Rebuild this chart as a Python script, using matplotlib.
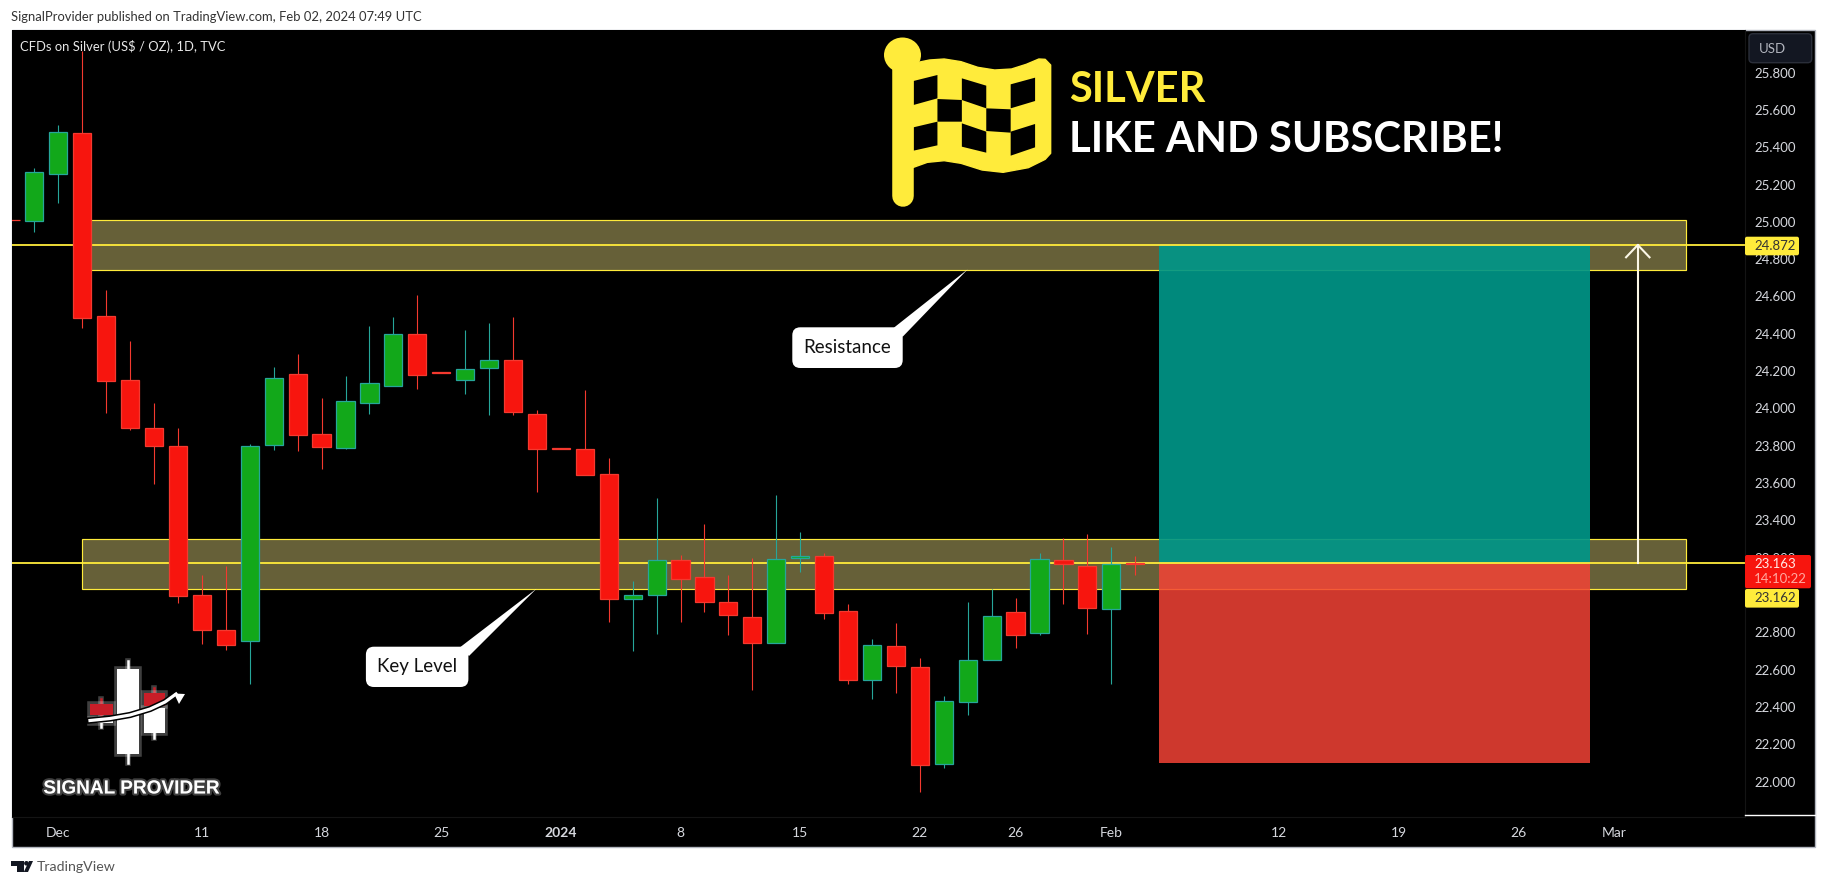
import numpy as np
import matplotlib
matplotlib.use('Agg')
import matplotlib.pyplot as plt
import matplotlib.patheffects as pe
from matplotlib.patches import Rectangle, Polygon, FancyBboxPatch, Ellipse, Circle

plt.rcParams['font.family'] = ['Lato', 'DejaVu Sans']

# candles, first one is the stub cut by the left edge
opens = [25.012, 25.007, 25.258, 25.475, 24.494, 24.151, 23.894, 23.797, 22.999, 22.811,
         22.756, 23.803, 24.183, 23.861, 23.786, 24.031, 24.122, 24.398, 24.195, 24.151,
         24.219, 24.258, 23.968, 23.789, 23.783, 23.647, 22.981, 23.002, 23.186, 23.095,
         22.961, 22.881, 22.742, 23.197, 23.208, 22.913, 22.547, 22.726, 22.613, 22.093,
         22.429, 22.654, 22.907, 22.795, 23.186, 23.154, 22.924, 23.172]
highs = [25.012, 25.289, 25.519, 25.918, 24.635, 24.362, 24.029, 23.894, 23.108, 23.156,
         23.808, 24.222, 24.290, 24.056, 24.174, 24.442, 24.490, 24.608, 24.196, 24.421,
         24.458, 24.490, 23.990, 23.789, 24.099, 23.733, 23.076, 23.520, 23.215, 23.381,
         23.108, 23.199, 23.536, 23.338, 23.224, 22.952, 22.765, 22.850, 22.661, 22.457,
         22.963, 23.033, 22.984, 23.225, 23.306, 23.327, 23.258, 23.209]
lows = [25.008, 24.948, 25.103, 24.431, 23.978, 23.885, 23.597, 22.959, 22.740, 22.706,
        22.525, 23.779, 23.772, 23.676, 23.780, 23.971, 24.120, 24.105, 24.188, 24.078,
        23.965, 23.965, 23.554, 23.783, 23.642, 22.858, 22.700, 22.793, 22.858, 22.911,
        22.786, 22.493, 22.742, 23.125, 22.872, 22.525, 22.445, 22.477, 21.947, 22.075,
        22.359, 22.654, 22.718, 22.788, 22.954, 22.793, 22.525, 23.108]
closes = [25.008, 25.266, 25.480, 24.482, 24.149, 23.894, 23.796, 22.993, 22.815, 22.734,
          23.797, 24.162, 23.856, 23.792, 24.038, 24.135, 24.398, 24.181, 24.188, 24.210,
          24.258, 23.983, 23.781, 23.783, 23.642, 22.981, 22.999, 23.186, 23.085, 22.965,
          22.892, 22.742, 23.192, 23.208, 22.906, 22.547, 22.731, 22.617, 22.088, 22.431,
          22.650, 22.886, 22.784, 23.192, 23.165, 22.929, 23.165, 23.168]

price_ticks = [22.0, 22.2, 22.4, 22.6, 22.8, 23.0, 23.2, 23.4, 23.6, 23.8, 24.0, 24.2,
               24.4, 24.6, 24.8, 25.0, 25.2, 25.4, 25.6, 25.8]
date_pos = [1, 7, 12, 17, 22, 27, 32, 37, 41, 45, 52, 57, 62, 66]
date_labels = ['Dec', '11', '18', '25', '2024', '8', '15', '22', '26', 'Feb', '12', '19', '26', 'Mar']

resistance_zone = [24.741, 25.009]
key_zone = [23.031, 23.299]
resistance_line = 24.876
key_line = 23.174
stop_price = 22.099
zone_start, zone_end = 2, 69
pos_start, pos_end = 47, 65
arrow_x = 67

W, H = 1826, 886
LEFT, TOP, PANE_R, PANE_B, RIGHT, BOTTOM = 11.5, 30, 1745, 816.7, 1815, 846.7
BULL, BEAR = '#12a81a', '#f7150e'
BULL_EDGE, BEAR_EDGE = '#26a69a', '#f4392f'
YELLOW = '#ffeb3b'
GREY = '#d6d8de'

fig = plt.figure(figsize=(W / 100, H / 100), dpi=100, facecolor='white')

# black frame behind everything
fig.add_artist(Rectangle((LEFT / W, 1 - BOTTOM / H), (RIGHT - LEFT) / W, (BOTTOM - TOP) / H,
                         transform=fig.transFigure, fc='black', ec='#b2b5be', lw=1, zorder=-5))

ax = fig.add_axes([LEFT / W, 1 - PANE_B / H, (PANE_R - LEFT) / W, (PANE_B - TOP) / H], facecolor='black')
ax.set_xlim(-0.957, 71.48)
ax.set_ylim(21.812, 26.028)
for s in ax.spines.values():
    s.set_visible(False)
ax.spines['right'].set_visible(True)
ax.spines['right'].set_color('#141414')
ax.spines['bottom'].set_visible(True)
ax.spines['bottom'].set_color('#141414')

ax.yaxis.tick_right()
ax.set_yticks(price_ticks)
ax.set_yticklabels(['%.3f' % p for p in price_ticks])
ax.set_xticks(date_pos)
ax.set_xticklabels(date_labels)
ax.tick_params(axis='y', length=0, pad=6.5, colors=GREY, labelsize=9.5)
ax.tick_params(axis='x', length=0, pad=7.5, colors=GREY, labelsize=10)
ax.get_xticklabels()[4].set_fontweight('bold')

# zones
for lo, hi in (resistance_zone, key_zone):
    ax.add_patch(Rectangle((zone_start, lo), zone_end - zone_start, hi - lo, fc='#666038', ec=YELLOW, lw=0.85, zorder=1))

# long position box
ax.add_patch(Rectangle((pos_start, key_line), pos_end - pos_start, resistance_line - key_line,
                       fc='#009688', alpha=0.92, lw=0, zorder=1.5))
ax.add_patch(Rectangle((pos_start, stop_price), pos_end - pos_start, key_line - stop_price,
                       fc='#f44336', alpha=0.85, lw=0, zorder=1.5))

ax.axhline(resistance_line, color=YELLOW, lw=1.3, zorder=2)
ax.axhline(key_line, color=YELLOW, lw=1.3, zorder=2)

# candles
idx = np.arange(-1, len(opens) - 1)
o = np.array(opens)
c = np.array(closes)
up = c > o
wick_cols = [BULL_EDGE if u else BEAR_EDGE for u in up]
ax.vlines(idx, lows, highs, colors=wick_cols, lw=0.8, zorder=3)
ax.bar(idx, np.abs(c - o), bottom=np.minimum(o, c), width=0.76,
       color=[BULL if u else BEAR for u in up], edgecolor=wick_cols, lw=0.9, zorder=3.5)

# up arrow
ax.plot([arrow_x, arrow_x], [key_line, resistance_line], color='#fbf7e6', lw=1.5, zorder=4)
ax.plot([arrow_x - 0.49, arrow_x, arrow_x + 0.49],
        [resistance_line - 0.066, resistance_line, resistance_line - 0.066],
        color='#fbf7e6', lw=1.5, zorder=4)

# overlay in image pixels for labels, callouts and logos
ov = fig.add_axes([0, 0, 1, 1], facecolor='none', zorder=5)
ov.set_xlim(0, W)
ov.set_ylim(H, 0)
ov.axis('off')

ov.text(10.7, 16.5, 'SignalProvider published on TradingView.com, Feb 02, 2024 07:49 UTC',
        fontsize=9.4, color='#333333', va='center')
ov.text(20, 46.7, 'CFDs on Silver (US$ / OZ), 1D, TVC', fontsize=9.4, color='#e8e8e8', va='center')
ov.text(37, 867.3, 'TradingView', fontsize=10.2, color='#555555', va='center')

# tradingview mark
ov.add_patch(Polygon([(10.7, 861), (23.5, 861), (23.5, 872), (16.5, 872), (16.5, 866), (10.7, 866)], fc='#131722'))
ov.add_patch(Circle((26.4, 863.3), 2.3, fc='#131722'))
ov.add_patch(Polygon([(29, 861), (33, 861), (28, 872), (23.8, 872)], fc='#131722'))

# price axis boxes
ov.add_patch(FancyBboxPatch((1749, 33.7), 62.7, 29, boxstyle='round,pad=0,rounding_size=4', fc='#131722', ec='#2a2e39', lw=1))
ov.text(1759, 48.5, 'USD', fontsize=9.5, color='#b2b5be', va='center')
for y0, txt in [(236.7, '24.872'), (589, '23.162')]:
    ov.add_patch(FancyBboxPatch((1745, y0), 54, 18.6, boxstyle='round,pad=0,rounding_size=2', fc=YELLOW, lw=0))
    ov.text(1754, y0 + 9.3, txt, fontsize=9.5, color='#333333', va='center')
ov.add_patch(FancyBboxPatch((1745, 555), 66, 33.3, boxstyle='round,pad=0,rounding_size=2', fc=BEAR, lw=0))
ov.text(1754, 564.3, '23.163', fontsize=9.5, color='#ffe9e6', va='center')
ov.text(1754, 579.3, '14:10:22', fontsize=9.5, color='#ffa9a0', va='center')
ov.plot([1745, 1815], [815, 815], color='white', lw=1)

# callouts
def callout(x0, y0, x1, y1, tail, label):
    ov.add_patch(Polygon(tail, fc='white', lw=0))
    ov.add_patch(FancyBboxPatch((x0, y0), x1 - x0, y1 - y0, boxstyle='round,pad=0,rounding_size=8', fc='white', lw=0))
    ov.text((x0 + x1) / 2, (y0 + y1) / 2, label, fontsize=13.5, color='#111111', ha='center', va='center')

callout(365.9, 646.7, 468.4, 687, [(460.4, 647), (536.5, 588.7), (469, 656)], 'Key Level')
callout(792.3, 327.3, 902.7, 368, [(894, 327.6), (967.7, 269.3), (902.7, 336.7)], 'Resistance')

# headline
ov.text(1069, 90, 'SILVER', fontsize=30, color=YELLOW, fontweight='bold', va='center')
ov.text(1069, 140, 'LIKE AND SUBSCRIBE!', fontsize=30.1, color='white', fontweight='bold', va='center')

# flag, points taken from a zoom of the logo
def fl(pts):
    return [(860 + x / 2.376, 20 + y / 3) for x, y in pts]

flag_pts = [(110, 135), (127, 130), (165, 120), (200, 117), (240, 125), (280, 142), (320, 150), (360, 147), (395, 133),
            (425, 117), (440, 118), (453, 135), (453, 400), (440, 418), (400, 443), (340, 457), (290, 450), (240, 430),
            (200, 422), (160, 427), (127, 442), (110, 445)]
ov.add_patch(Polygon(fl(flag_pts), fc=YELLOW, ec=YELLOW, lw=1, joinstyle='round'))
ov.plot([902.5, 902.5], [55, 196], color=YELLOW, lw=15.5, solid_capstyle='round')
ov.add_patch(Ellipse((902.5, 55), 37, 35, fc=YELLOW, lw=0))
squares = [[(127, 183), (184, 165), (184, 235), (127, 255)],
           [(242, 175), (300, 197), (300, 265), (242, 240)],
           [(358, 193), (416, 173), (416, 243), (358, 265)],
           [(184, 237), (242, 240), (242, 305), (184, 305)],
           [(300, 265), (358, 268), (358, 338), (300, 333)],
           [(127, 322), (184, 305), (184, 376), (127, 392)],
           [(242, 310), (300, 335), (300, 398), (242, 380)],
           [(358, 335), (416, 312), (416, 382), (358, 407)]]
for sq in squares:
    ov.add_patch(Polygon(fl(sq), fc='black', lw=0))

# signal provider logo
glow = [pe.withStroke(linewidth=4, foreground='white', alpha=0.25)]
def logo_candle(x0, x1, y0, y1, wt, wb, col):
    xm = (x0 + x1) / 2
    ov.plot([xm, xm], [wt, wb], color=col, lw=1.8, path_effects=glow, zorder=2)
    ov.add_patch(Rectangle((x0, y0), x1 - x0, y1 - y0, fc=col, lw=0, zorder=2, path_effects=glow))

logo_candle(117, 139, 668.7, 754, 661.3, 762.7, 'white')
logo_candle(90.3, 112.5, 704, 715, 699, 718, '#c81e28')
logo_candle(90.3, 112.5, 719, 723, 719, 727, 'white')
logo_candle(143.5, 165.3, 708, 732.7, 708, 738, 'white')
logo_candle(143.5, 165.3, 693, 706, 688, 706, '#c81e28')

curve_x = [90, 110, 130, 150, 165, 176]
curve_y = [720.5, 718.5, 715, 709, 702, 694]
ov.plot(curve_x, curve_y, color='black', lw=4.5, zorder=3)
ov.plot(curve_x, curve_y, color='white', lw=2.3, zorder=4)
ov.add_patch(Polygon([(185, 694), (174, 693.5), (179, 704)], fc='white', lw=0, zorder=4))
ov.text(131, 789, 'SIGNAL PROVIDER', fontsize=13.7, color='white', fontweight='bold', family='Liberation Sans',
        ha='center', va='center', path_effects=[pe.withStroke(linewidth=3, foreground='white', alpha=0.25)])

fig.savefig('out.png', dpi=100, facecolor='white')
